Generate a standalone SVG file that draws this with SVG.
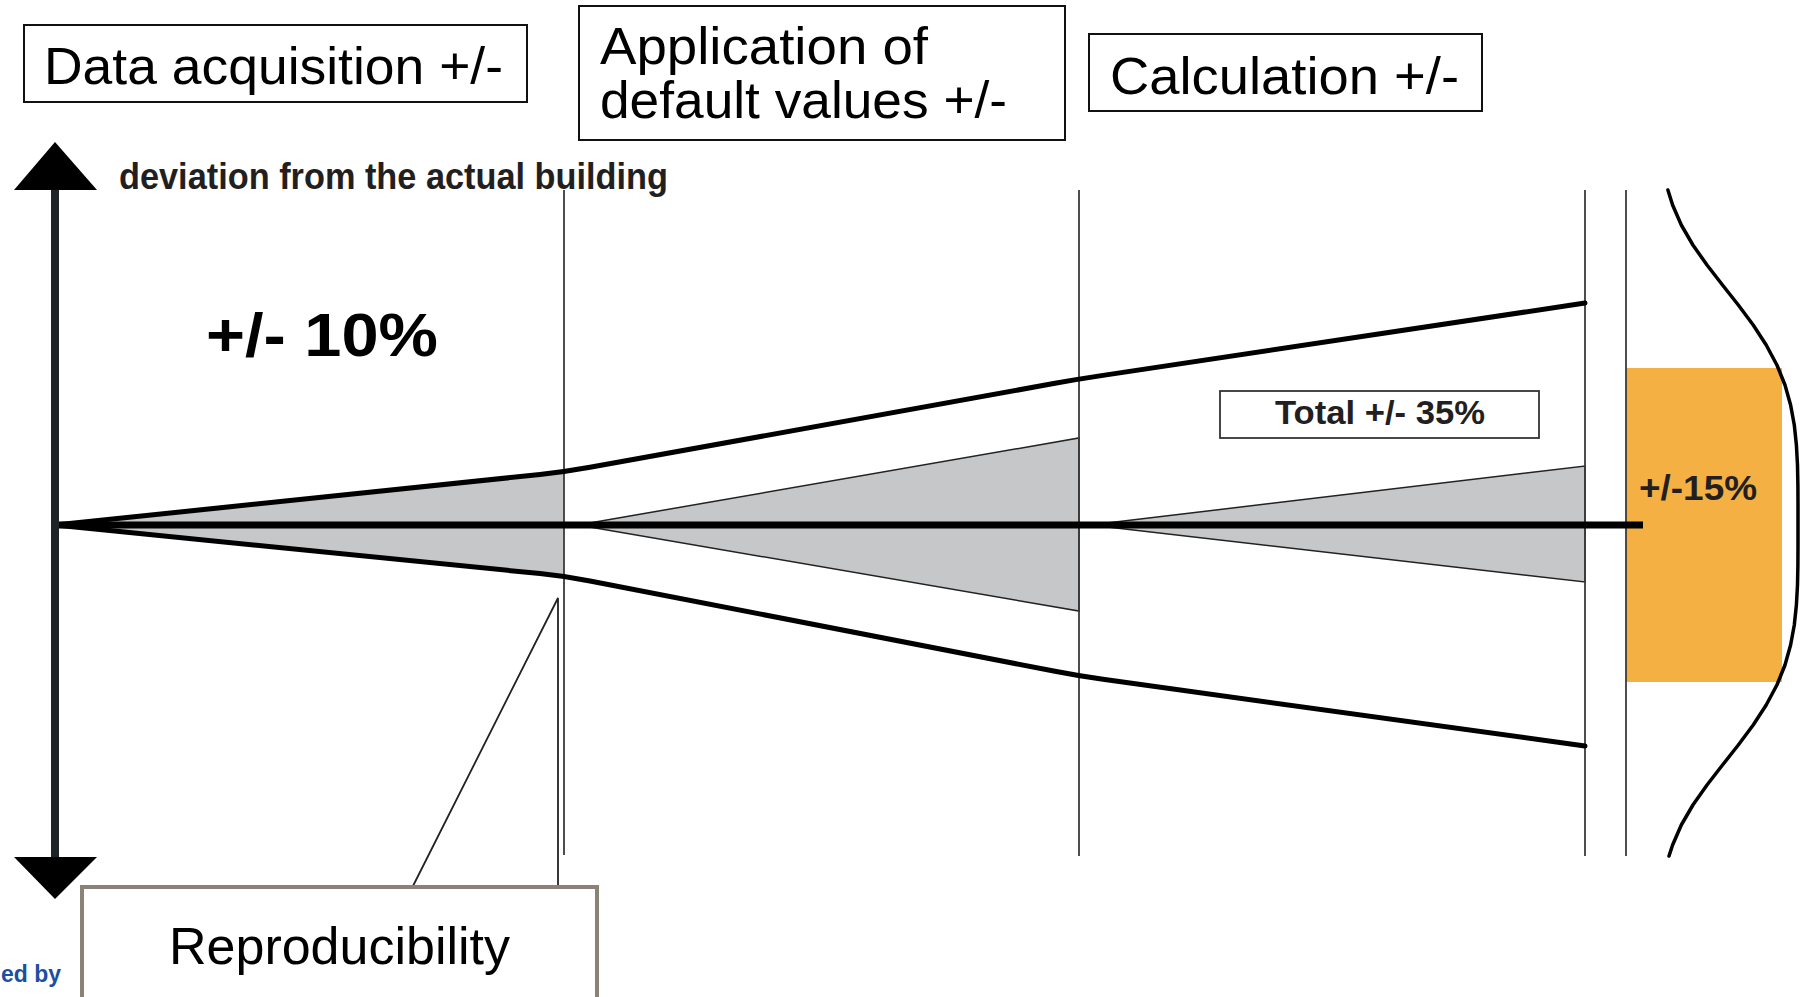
<svg xmlns="http://www.w3.org/2000/svg" width="1801" height="997" viewBox="0 0 1801 997">
<style>
.box{fill:#fff;stroke:#111;stroke-width:2}
.lbl{font-family:"Liberation Sans",Arial,sans-serif;font-size:52px;fill:#000}
.bold{font-family:"Liberation Sans",Arial,sans-serif;font-weight:bold;fill:#231f20}
.vline{stroke:#3a3a3a;stroke-width:1.8;fill:none}
.outer{fill:none;stroke:#000;stroke-width:5;stroke-linejoin:round;stroke-linecap:round}
.tri{fill:#c6c7c9;stroke:#222;stroke-width:1.5}
.thin{fill:none;stroke:#222;stroke-width:1.8}
</style>
<rect width="1801" height="997" fill="#fff"/>

<g id="band-fills">
  <polygon points="58,525 564,472 564,577" fill="#c6c7c9"/>
  <polygon class="tri" points="578,525 1079,438 1079,611"/>
  <polygon class="tri" points="1090,525 1585,466 1585,582"/>
</g>

<g id="stage-dividers">
  <line class="vline" x1="564" y1="190" x2="564" y2="855"/>
  <line class="vline" x1="1079" y1="190" x2="1079" y2="856"/>
  <line class="vline" x1="1585" y1="190" x2="1585" y2="856"/>
</g>

<g id="result-band">
  <rect x="1626" y="368" width="156" height="314" fill="#f4b043"/>
  <line class="vline" x1="1626" y1="190" x2="1626" y2="856"/>
  <text class="bold" x="1639" y="500" font-size="35" textLength="118" lengthAdjust="spacingAndGlyphs">+/-15%</text>
</g>

<g id="connectors">
  <path class="outer" d="M55,525 L540,474.5 Q564,472 590,467.3 L1055,383.3 Q1079,379 1103,375.4 L1585,303"/>
  <path class="outer" d="M55,525 L540,573.6 Q564,576 590,581 L1055,671.3 Q1079,676 1103,679.3 L1585,746"/>
  <line x1="55" y1="525" x2="1643" y2="525" stroke="#000" stroke-width="7"/>
  <polyline class="thin" points="413,886 558,598 558,886"/>
  <polyline fill="none" stroke="#000" stroke-width="3.5" stroke-linejoin="round" stroke-linecap="round" points="1667.9,190 1672.6,205 1681.3,225 1692.9,245 1707,265 1722.5,285 1738.3,305 1753.2,325 1766.2,345 1776.9,365 1785,385 1790.6,405 1794.3,425 1796.4,445 1797.5,465 1797.9,485 1798,505 1798,525 1798,545 1797.9,565 1797.5,585 1796.4,605 1794.3,625 1790.6,645 1785,665 1776.9,685 1766.2,705 1753.2,725 1738.3,745 1722.5,765 1707,785 1692.9,805 1681.3,825 1672.6,845 1669,856"/>
</g>

<g id="axis">
  <line x1="55" y1="188" x2="55" y2="859" stroke="#1e2426" stroke-width="8"/>
  <polygon points="55,142 14,190 97,190" fill="#000"/>
  <polygon points="14,857 97,857 55,899" fill="#000"/>
  <text class="bold" x="119" y="189" font-size="36" textLength="549" lengthAdjust="spacingAndGlyphs">deviation from the actual building</text>
</g>

<g id="data-acquisition">
  <rect class="box" x="24" y="25" width="503" height="77"/>
  <text class="lbl" x="44" y="84" textLength="459" lengthAdjust="spacingAndGlyphs">Data acquisition +/-</text>
</g>

<g id="default-values">
  <rect class="box" x="579" y="6" width="486" height="134"/>
  <text class="lbl" x="600" y="64" textLength="328" lengthAdjust="spacingAndGlyphs">Application of</text>
  <text class="lbl" x="600" y="118" textLength="407" lengthAdjust="spacingAndGlyphs">default values +/-</text>
</g>

<g id="calculation">
  <rect class="box" x="1089" y="34" width="393" height="77"/>
  <text class="lbl" x="1110" y="94" textLength="349" lengthAdjust="spacingAndGlyphs">Calculation +/-</text>
</g>

<g id="ten-percent">
  <text font-family="Liberation Sans, Arial, sans-serif" font-weight="bold" font-size="61" fill="#000" x="206" y="356" textLength="232" lengthAdjust="spacingAndGlyphs">+/- 10%</text>
</g>

<g id="total">
  <rect x="1220" y="391" width="319" height="47" fill="#fff" stroke="#333" stroke-width="1.8"/>
  <text class="bold" x="1275" y="424" font-size="34" textLength="210" lengthAdjust="spacingAndGlyphs">Total +/- 35%</text>
</g>

<g id="reproducibility">
  <rect x="82" y="887" width="515" height="140" fill="#fff" stroke="#8a8277" stroke-width="4"/>
  <text class="lbl" x="169" y="964" textLength="341" lengthAdjust="spacingAndGlyphs">Reproducibility</text>
</g>

<g id="footer">
  <text x="1" y="982" font-family="Liberation Sans, Arial, sans-serif" font-weight="bold" font-size="23" fill="#1c4fa0" textLength="60" lengthAdjust="spacingAndGlyphs">ed by</text>
</g>
</svg>
